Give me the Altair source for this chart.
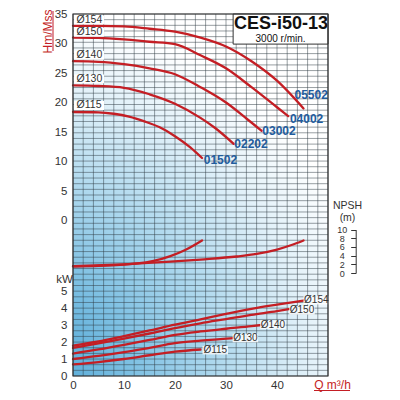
import altair as alt
import pandas as pd

# ---------------- data ----------------
DIAMS = ["Ø154", "Ø150", "Ø140", "Ø130", "Ø115"]
MODELS = ["05502", "04002", "03002", "02202", "01502"]

# Head curves  Q (m3/h) -> H (m)
Q_H154 = [0, 5, 10, 15, 20, 25, 30, 35, 40, 45.2]
H_154 = [33.0, 33.0, 32.9, 32.5, 32.0, 31.0, 29.5, 27.0, 23.7, 19.0]
Q_H150 = [0, 5, 10, 15, 20, 25, 30, 35, 40, 42.2]
H_150 = [31.0, 30.95, 30.7, 30.3, 29.9, 28.0, 25.8, 22.6, 19.2, 17.7]
Q_H140 = [0, 5, 10, 15, 20, 25, 30, 34, 37]
H_140 = [27.0, 26.9, 26.5, 25.8, 24.8, 22.6, 20.0, 17.3, 15.2]
Q_H130 = [0, 5, 10, 15, 20, 25, 28, 31.5]
H_130 = [22.9, 22.8, 22.5, 21.4, 19.8, 17.4, 15.6, 13.0]
Q_H115 = [0, 5, 8, 11, 14, 17, 20, 23, 25.3]
H_115 = [18.4, 18.35, 18.1, 17.6, 16.8, 15.8, 14.3, 12.4, 10.6]

# NPSH curves  Q -> NPSH (m)
Q_NA = [0, 5, 10, 12.6, 15.8, 19.1, 22, 25.3]
NPSH_A = [1.55, 1.65, 1.95, 2.2, 2.8, 3.9, 5.3, 7.5]
Q_NB = [0, 10, 19.1, 25, 32.1, 36, 40, 43, 45.2]
NPSH_B = [1.55, 2.0, 2.6, 3.1, 3.8, 4.4, 5.4, 6.5, 7.5]

# Power curves  Q -> kW
Q_P154 = [0, 5, 10, 15, 20, 25, 30, 35, 40, 45.2]
P_154 = [1.78, 2.03, 2.35, 2.68, 3.02, 3.33, 3.65, 3.95, 4.2, 4.44]
Q_P150 = [0, 5, 10, 15, 20, 25, 30, 35, 40, 42.6]
P_150 = [1.65, 1.92, 2.2, 2.5, 2.82, 3.1, 3.35, 3.6, 3.82, 3.95]
Q_P140 = [0, 5, 10, 15, 20, 25, 30, 35, 37]
P_140 = [1.32, 1.56, 1.83, 2.12, 2.42, 2.62, 2.78, 2.93, 3.0]
Q_P130 = [0, 5, 10, 15, 20, 25, 31.5]
P_130 = [1.0, 1.18, 1.4, 1.66, 1.93, 2.08, 2.23]
Q_P115 = [0, 5, 10, 15, 20, 25]
P_115 = [0.68, 0.82, 1.0, 1.22, 1.43, 1.56]

# label anchors
HLAB_Q = [0.7, 0.7, 0.7, 0.7, 0.7]
HLAB_H = [34.0, 31.9, 28.0, 24.0, 19.5]
MLAB_Q = [46.7, 45.8, 40.4, 34.9, 28.9]
MLAB_H = [21.3, 17.2, 15.2, 12.9, 10.3]
PLAB_Q = [47.7, 44.9, 39.2, 33.8, 27.9]
PLAB_K = [4.46, 3.86, 3.02, 2.23, 1.52]

TITLE = "CES-i50-13"
SUBTITLE = "3000 r/min."

X_TICKS = [0, 10, 20, 30, 40]
H_TICKS = [0, 5, 10, 15, 20, 25, 30, 35]
K_TICKS = [0, 1, 2, 3, 4, 5]
N_TICKS = [0, 2, 4, 6, 8, 10]
GRID_Q = list(range(0, 51, 2))
GRID_ROWS = list(range(0, 65))

# ---------------- style ----------------
RED = "#c41e24"
BLUE = "#1f5c9e"
INK = "#333333"
FONT = "Liberation Sans, Arial, sans-serif"

W, HT = 255, 362
H_RANGE = [206.6, 0]
N_RANGE = [259.0, 215.6]
K_RANGE = [362, 277.0]
G_RANGE = [362, 0]


def xsc():
    return alt.Scale(domain=[0, 50], nice=False, zero=False)


def ysc(dom, rng):
    return alt.Scale(domain=dom, range=rng, nice=False, zero=False)


def X(field="Q", axis=None):
    return alt.X(f"{field}:Q", scale=xsc(), axis=axis)


# ---------------- tables ----------------
head = pd.concat([
    pd.DataFrame({"Q": q, "v": h, "c": d})
    for q, h, d in [(Q_H154, H_154, DIAMS[0]), (Q_H150, H_150, DIAMS[1]),
                    (Q_H140, H_140, DIAMS[2]), (Q_H130, H_130, DIAMS[3]),
                    (Q_H115, H_115, DIAMS[4])]
])
npsh = pd.concat([
    pd.DataFrame({"Q": Q_NA, "v": NPSH_A, "c": "A"}),
    pd.DataFrame({"Q": Q_NB, "v": NPSH_B, "c": "B"}),
])
power = pd.concat([
    pd.DataFrame({"Q": q, "v": p, "c": d})
    for q, p, d in [(Q_P154, P_154, DIAMS[0]), (Q_P150, P_150, DIAMS[1]),
                    (Q_P140, P_140, DIAMS[2]), (Q_P130, P_130, DIAMS[3]),
                    (Q_P115, P_115, DIAMS[4])]
])

hlab = pd.DataFrame({"Q": HLAB_Q, "v": HLAB_H, "t": DIAMS})
hlab["Qa"] = hlab["Q"] - 0.5
hlab["Qb"] = hlab["Q"] + 5.4
hlab["va"] = hlab["v"] - 0.75
hlab["vb"] = hlab["v"] + 0.75

mlab = pd.DataFrame({"Q": MLAB_Q, "v": MLAB_H, "t": MODELS})

plab = pd.DataFrame({"Q": PLAB_Q, "v": PLAB_K, "t": DIAMS})
plab["Qa"] = plab["Q"] - 2.5
plab["Qb"] = plab["Q"] + 2.5
plab["va"] = plab["v"] - 0.25
plab["vb"] = plab["v"] + 0.25

frame = pd.DataFrame({"Q": [0], "Q2": [50], "g": [0], "g2": [64]})
vgrid = pd.DataFrame({"Q": GRID_Q, "g": 0, "g2": 64})
hgrid = pd.DataFrame({"g": GRID_ROWS, "Q": 0, "Q2": 50})
tbox = pd.DataFrame({"Q": [31.4], "Q2": [50], "v": [29.9], "v2": [35]})
ttl = pd.DataFrame({"Q": [40.8], "v": [33.25], "t": [TITLE]})
sttl = pd.DataFrame({"Q": [40.7], "v": [30.7], "t": [SUBTITLE]})
one = pd.DataFrame({"k": [0]})

# ---------------- layers ----------------
x_axis = alt.Axis(values=X_TICKS, grid=False, ticks=False, domain=False,
                  labelFlush=False, labelPadding=3, labelFontSize=11.5,
                  labelFont=FONT, labelColor=INK,
                  title="Q m³/h", titleColor=RED, titleFont=FONT,
                  titleFontSize=12, titleFontWeight="normal",
                  titleX=259, titleY=8.7, titleAlign="center",
                  titleBaseline="middle")

grad = {
    "gradient": "radial", "x1": 0, "y1": 1, "r1": 0, "x2": 0, "y2": 1, "r2": 1,
    "stops": [
        {"offset": 0.0, "color": "#48a2d3"},
        {"offset": 0.3, "color": "#7cbfe2"},
        {"offset": 0.55, "color": "#b0d9ee"},
        {"offset": 0.8, "color": "#e2f1f9"},
        {"offset": 1.0, "color": "#ffffff"},
    ],
}

bg = alt.Chart(frame).mark_rect(fill=grad).encode(
    x=X("Q", x_axis), x2="Q2",
    y=alt.Y("g:Q", scale=ysc([0, 64], G_RANGE), axis=None), y2="g2")

vg = alt.Chart(vgrid).mark_rule(color="#2e3b44", opacity=0.62, strokeWidth=0.8).encode(
    x=X(), y=alt.Y("g:Q", scale=ysc([0, 64], G_RANGE), axis=None), y2="g2")

hg = alt.Chart(hgrid).mark_rule(color="#2e3b44", opacity=0.62, strokeWidth=0.8).encode(
    x=X(), x2="Q2", y=alt.Y("g:Q", scale=ysc([0, 64], G_RANGE), axis=None))

title_box = alt.Chart(tbox).mark_rect(fill="white", stroke=INK, strokeWidth=1).encode(
    x=X(), x2="Q2", y=alt.Y("v:Q", scale=ysc([0, 35], H_RANGE), axis=None), y2="v2")

title_txt = alt.Chart(ttl).mark_text(font=FONT, fontSize=18, fontWeight="bold",
                                     color="#111111", baseline="middle").encode(
    x=X(), y=alt.Y("v:Q", scale=ysc([0, 35], H_RANGE), axis=None), text="t:N")
sub_txt = alt.Chart(sttl).mark_text(font=FONT, fontSize=10, color="#111111",
                                    baseline="middle").encode(
    x=X(), y=alt.Y("v:Q", scale=ysc([0, 35], H_RANGE), axis=None), text="t:N")

h_axis = alt.Axis(orient="left", values=H_TICKS, grid=False, ticks=False, domain=False,
                  labelPadding=6, labelFontSize=11.5, labelFont=FONT, labelColor=INK,
                  labelOverlap=False,
                  title="Hm/Mss", titleColor=RED, titleFont=FONT, titleFontSize=12,
                  titleFontWeight="normal", titleAngle=270, titleX=-26, titleY=17,
                  titleAlign="center", titleBaseline="middle")

head_lines = alt.Chart(head).mark_line(color=RED, strokeWidth=2.3, interpolate="monotone",
                                       strokeCap="round").encode(
    x=X(), y=alt.Y("v:Q", scale=ysc([0, 35], H_RANGE), axis=h_axis), detail="c:N")

n_axis = alt.Axis(orient="left", offset=-282.7, values=N_TICKS, grid=False,
                  ticks=True, tickSize=5, tickColor=INK, tickWidth=1,
                  domain=True, domainColor=INK, domainWidth=1,
                  labelAlign="center", labelPadding=9, labelFontSize=9,
                  labelFont=FONT, labelColor=INK, labelOverlap=False,
                  title=["NPSH", "(m)"], titleAngle=0, titleX=-8.7, titleY=186,
                  titleAlign="center", titleBaseline="top", titleLineHeight=12,
                  titleFont=FONT, titleFontSize=10.5, titleFontWeight="normal",
                  titleColor=INK)

npsh_lines = alt.Chart(npsh).mark_line(color=RED, strokeWidth=2.3, interpolate="monotone",
                                       strokeCap="round").encode(
    x=X(), y=alt.Y("v:Q", scale=ysc([0, 10], N_RANGE), axis=n_axis), detail="c:N")

k_axis = alt.Axis(orient="left", values=K_TICKS, grid=False, ticks=False, domain=False,
                  labelPadding=6, labelFontSize=11.5, labelFont=FONT, labelColor=INK,
                  labelOverlap=False,
                  title="kW", titleAngle=0, titleX=-9, titleY=265.5,
                  titleAlign="center", titleBaseline="middle", titleFont=FONT,
                  titleFontSize=11.5, titleFontWeight="normal", titleColor=INK)

power_lines = alt.Chart(power).mark_line(color=RED, strokeWidth=2.3, interpolate="monotone",
                                         strokeCap="round").encode(
    x=X(), y=alt.Y("v:Q", scale=ysc([0, 5], K_RANGE), axis=k_axis), detail="c:N")

hlab_box = alt.Chart(hlab).mark_rect(fill="white").encode(
    x=X("Qa"), x2="Qb", y=alt.Y("va:Q", scale=ysc([0, 35], H_RANGE), axis=None), y2="vb")
hlab_txt = alt.Chart(hlab).mark_text(align="left", baseline="middle", font=FONT,
                                     fontSize=10.5, color=INK).encode(
    x=X(), y=alt.Y("v:Q", scale=ysc([0, 35], H_RANGE), axis=None), text="t:N")

plab_box = alt.Chart(plab).mark_rect(fill="white", opacity=0.85).encode(
    x=X("Qa"), x2="Qb", y=alt.Y("va:Q", scale=ysc([0, 5], K_RANGE), axis=None), y2="vb")
plab_txt = alt.Chart(plab).mark_text(align="center", baseline="middle", font=FONT,
                                     fontSize=10, color=INK).encode(
    x=X(), y=alt.Y("v:Q", scale=ysc([0, 5], K_RANGE), axis=None), text="t:N")

mlab_txt = alt.Chart(mlab).mark_text(align="center", baseline="middle", font=FONT,
                                     fontSize=12, fontWeight="bold", color=BLUE).encode(
    x=X(), y=alt.Y("v:Q", scale=ysc([0, 35], H_RANGE), axis=None), text="t:N")

border = alt.Chart(frame).mark_rect(fillOpacity=0, stroke=INK, strokeWidth=1.2).encode(
    x=X(), x2="Q2", y=alt.Y("g:Q", scale=ysc([0, 64], G_RANGE), axis=None), y2="g2")

ul_h = alt.Chart(one).mark_rule(color=RED, strokeWidth=1).encode(
    x=alt.value(-20), y=alt.value(-3), y2=alt.value(37))
ul_q = alt.Chart(one).mark_rule(color=RED, strokeWidth=1).encode(
    x=alt.value(241), x2=alt.value(277), y=alt.value(376.5))

chart = alt.layer(
    bg, vg, hg, title_box, title_txt, sub_txt, head_lines, npsh_lines, power_lines,
    hlab_box, hlab_txt, plab_box, plab_txt, mlab_txt, border, ul_h, ul_q,
).resolve_scale(x="independent", y="independent").properties(
    width=W, height=HT,
    autosize=alt.AutoSizeParams(type="none"),
    padding={"left": 65, "top": 6, "right": 64, "bottom": 16},
).configure_view(strokeWidth=0)

chart.save("out.html", embed_options={"renderer": "svg", "actions": False})
